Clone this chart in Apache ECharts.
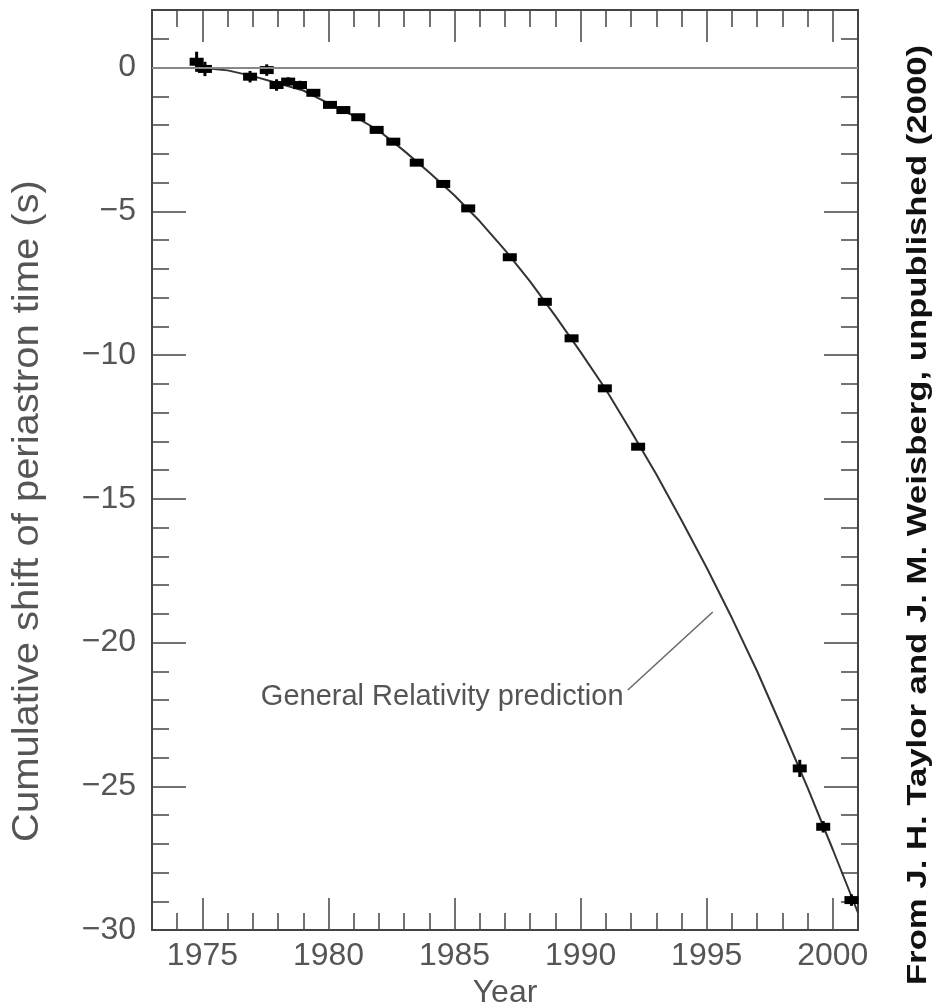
<!DOCTYPE html>
<html>
<head>
<meta charset="utf-8">
<script src="https://cdn.jsdelivr.net/npm/echarts@6/dist/echarts.min.js"></script>
<style>
  html, body { margin: 0; padding: 0; background: #fff; }
  #chart { width: 938px; height: 1004px; }
</style>
</head>
<body>
<div id="chart"></div>
<script>
// measured shift of periastron time (year, seconds, +/- error)
const obsYears = [1974.77, 1975.10, 1976.89, 1977.55, 1977.94, 1978.40, 1978.87, 1979.40,
  1980.06, 1980.59, 1981.18, 1981.91, 1982.57, 1983.50, 1984.55, 1985.54, 1987.19,
  1988.58, 1989.64, 1990.96, 1992.28, 1998.69, 1999.62, 2000.74];
const obsShift = [0.20, -0.05, -0.32, -0.09, -0.61, -0.49, -0.61, -0.88,
  -1.30, -1.48, -1.73, -2.17, -2.58, -3.31, -4.05, -4.90, -6.60,
  -8.15, -9.42, -11.16, -13.19, -24.38, -26.41, -28.96];
const obsErr = [0.35, 0.25, 0.2, 0.2, 0.2, 0.15, 0.15, 0.12,
  0.1, 0.1, 0.1, 0.1, 0.1, 0.1, 0.1, 0.1, 0.1,
  0.1, 0.1, 0.1, 0.1, 0.3, 0.2, 0.2];

// general relativity prediction
const grYears = [1974.8, 1976, 1977, 1978, 1979, 1980, 1981, 1982, 1983, 1984, 1985, 1986,
  1987, 1988, 1989, 1990, 1991, 1992, 1993, 1994, 1995, 1996, 1997, 1998, 1999, 2000, 2001];
const grShift = [0, -0.1, -0.3, -0.55, -0.8, -1.25, -1.68, -2.2, -2.9, -3.65, -4.45, -5.35,
  -6.35, -7.45, -8.65, -9.9, -11.2, -12.65, -14.15, -15.75, -17.4, -19.15, -21.0, -23.0,
  -25.05, -27.2, -29.4];

// annotation: label anchor and pointer line
const grLabelText = 'General Relativity prediction';
const grLabelAt = [1991.7, -21.9];
const pointerYears = [1991.87, 1995.24];
const pointerShift = [-21.65, -18.94];

// axis ticks
const majorYears = [1975, 1980, 1985, 1990, 1995, 2000];
const majorShift = [-30, -25, -20, -15, -10, -5, 0];
const yearRange = [1973, 2001];
const shiftRange = [-30, 2];

let minorYears = [];
for (let y = yearRange[0]; y <= yearRange[1]; y++) {
  if (y % 5 !== 0) minorYears.push(y);
}
let minorShift = [];
for (let s = shiftRange[0]; s <= shiftRange[1]; s++) {
  if (s % 5 !== 0) minorShift.push(s);
}

const ink = '#444';
const labelFont = { fontFamily: 'Liberation Sans', fontSize: 32, color: '#555' };

function tickAxis(dim, position, values, len, withLabels) {
  const range = dim === 'x' ? yearRange : shiftRange;
  return {
    type: 'value',
    position: position,
    min: range[0],
    max: range[1],
    axisLine: { show: false, onZero: false },
    splitLine: { show: false },
    axisTick: {
      show: true, inside: true, length: len, customValues: values,
      lineStyle: { color: ink, width: 1.5 }
    },
    axisLabel: withLabels ? Object.assign({
      show: true, customValues: values, margin: dim === 'x' ? 10 : 16,
      formatter: (v) => (v < 0 ? '\u2212' + Math.abs(v) : String(v))
    }, labelFont) : { show: false }
  };
}

let xMain = tickAxis('x', 'bottom', majorYears, 32, true);
xMain.name = 'Year';
xMain.nameLocation = 'middle';
xMain.nameGap = 46;
xMain.nameTextStyle = labelFont;

const chart = echarts.init(document.getElementById('chart'));
chart.setOption({
  animation: false,
  backgroundColor: '#fff',
  grid: {
    left: 152, right: 80, top: 10, bottom: 74,
    outerBoundsMode: 'none',
    show: true, borderColor: ink, borderWidth: 2, backgroundColor: 'transparent'
  },
  xAxis: [
    xMain,
    tickAxis('x', 'bottom', minorYears, 17, false),
    tickAxis('x', 'top', majorYears, 32, false),
    tickAxis('x', 'top', minorYears, 17, false)
  ],
  yAxis: [
    tickAxis('y', 'left', majorShift, 34, true),
    tickAxis('y', 'left', minorShift, 17, false),
    tickAxis('y', 'right', majorShift, 34, false),
    tickAxis('y', 'right', minorShift, 17, false)
  ],
  series: [
    {
      type: 'line',
      name: 'GR prediction',
      data: grYears.map((y, i) => [y, grShift[i]]),
      showSymbol: false,
      smooth: false,
      clip: true,
      lineStyle: { color: '#333', width: 2 },
      markLine: {
        silent: true,
        symbol: 'none',
        label: { show: false },
        lineStyle: { color: '#888', width: 2, type: 'solid' },
        data: [{ yAxis: 0 }]
      },
      z: 2
    },
    {
      type: 'line',
      name: 'pointer',
      data: pointerYears.map((y, i) => [y, pointerShift[i]]),
      showSymbol: false,
      lineStyle: { color: '#666', width: 1.5 },
      z: 2
    },
    {
      type: 'custom',
      name: 'observed',
      data: obsYears.map((y, i) => [y, obsShift[i], obsErr[i]]),
      encode: { x: 0, y: 1 },
      renderItem: function (params, api) {
        const p = api.coord([api.value(0), api.value(1)]);
        const hi = api.coord([api.value(0), api.value(1) + api.value(2)]);
        const lo = api.coord([api.value(0), api.value(1) - api.value(2)]);
        return {
          type: 'group',
          children: [
            { type: 'line', shape: { x1: p[0], y1: hi[1], x2: p[0], y2: lo[1] },
              style: { stroke: '#000', lineWidth: 3 } },
            { type: 'rect', shape: { x: p[0] - 7, y: p[1] - 4, width: 14, height: 8 },
              style: { fill: '#000' } }
          ]
        };
      },
      z: 3
    }
  ]
});

// texts placed around the plot
const lp = chart.convertToPixel({ gridIndex: 0 }, grLabelAt);
chart.setOption({
  graphic: [
    {
      type: 'text',
      x: 28, y: 511,
      rotation: Math.PI / 2,
      scaleX: 1.11,
      style: {
        text: 'Cumulative shift of periastron time (s)',
        font: '36px "Liberation Sans"', fill: '#555',
        align: 'center', verticalAlign: 'middle'
      }
    },
    {
      type: 'text',
      x: 918, y: 515,
      rotation: Math.PI / 2,
      scaleX: 1.24,
      style: {
        text: 'From J. H. Taylor and J. M. Weisberg, unpublished (2000)',
        font: 'bold 28px "Liberation Sans"', fill: '#111',
        align: 'center', verticalAlign: 'middle'
      }
    },
    {
      type: 'text',
      x: lp[0], y: lp[1],
      style: {
        text: grLabelText,
        font: '29px "Liberation Sans"', fill: '#555',
        align: 'right', verticalAlign: 'middle'
      }
    }
  ]
});
</script>
</body>
</html>
